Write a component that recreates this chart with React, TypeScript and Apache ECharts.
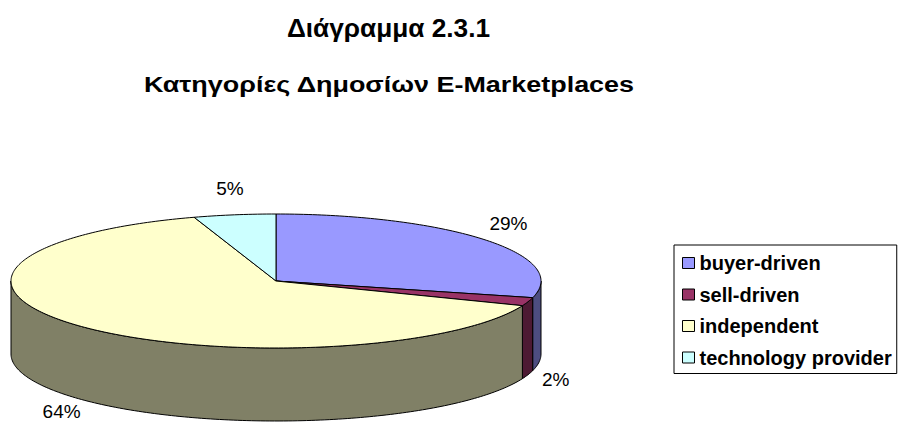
import React, { useEffect, useRef } from "react";
import * as echarts from "echarts";

const categories = ["buyer-driven", "sell-driven", "independent", "technology provider"];
const shares = [29, 2, 64, 5];
const topColors = ["#9999FF", "#993366", "#FFFFCC", "#CCFFFF"];
const sideColors = ["#4D4D80", "#4D1A33", "#808066", "#668080"];

const titleMain = "Διάγραμμα 2.3.1";
const titleSub = "Κατηγορίες Δημοσίων E-Marketplaces";

export default function App() {
  const ref = useRef<HTMLDivElement>(null);
  useEffect(() => {
    document.body.style.margin = "0";
    const chart = echarts.init(ref.current!, null, { renderer: "svg" });
    const total = shares.reduce((a, b) => a + b, 0);
    const CX = 276, CY = 281, RX = 265, RY = 67, DEPTH = 73;
    const pt = (deg: number, dy = 0) => {
      const r = (deg * Math.PI) / 180;
      return [CX + RX * Math.sin(r), CY - RY * Math.cos(r) + dy];
    };
    const renderItem = (params: any, api: any) => {
      const i = params.dataIndex;
      let start = 0;
      for (let k = 0; k < i; k++) start += shares[k];
      const v = api.value(0);
      const a0 = (start / total) * 360;
      const a1 = ((start + v) / total) * 360;
      const children: any[] = [];
      const topPts: number[][] = [[CX, CY]];
      const steps = Math.max(2, Math.ceil(a1 - a0));
      for (let s = 0; s <= steps; s++) topPts.push(pt(a0 + ((a1 - a0) * s) / steps));
      children.push({
        type: "polygon",
        z2: 10,
        shape: { points: topPts },
        style: { fill: topColors[i], stroke: "#000", lineWidth: 1, lineJoin: "round" },
      });
      const s0 = Math.max(a0, 90);
      const s1 = Math.min(a1, 270);
      if (s1 > s0) {
        const n = Math.max(2, Math.ceil(s1 - s0));
        const up: number[][] = [];
        const down: number[][] = [];
        for (let s = 0; s <= n; s++) {
          const d = s0 + ((s1 - s0) * s) / n;
          up.push(pt(d));
          down.push(pt(d, DEPTH));
        }
        children.push({
          type: "polygon",
          z2: 5,
          shape: { points: up.concat(down.reverse()) },
          style: { fill: sideColors[i], stroke: "#000", lineWidth: 1, lineJoin: "round" },
        });
      }
      const mid = (((a0 + a1) / 2) * Math.PI) / 180;
      const c = Math.cos(mid);
      const lx = CX + RX * Math.sin(mid) * 1.11;
      const ly = c >= 0 ? CY - RY * c * 1.4 : CY - RY * c * 1.25 + DEPTH;
      children.push({
        type: "text",
        z2: 20,
        x: lx,
        y: ly,
        style: {
          text: `${v}%`,
          fill: "#000",
          fontFamily: "Liberation Sans",
          fontSize: 19,
          align: "center",
          verticalAlign: "middle",
        },
      });
      return { type: "group", children };
    };

    chart.setOption({
      animation: false,
      backgroundColor: "#fff",
      legend: {
        orient: "vertical",
        left: 674,
        top: 245,
        icon: "rect",
        itemWidth: 12,
        itemHeight: 11,
        itemGap: 11.5,
        padding: [8, 5, 6, 8],
        borderColor: "#000",
        borderWidth: 1,
        selectedMode: false,
        itemStyle: { borderColor: "#000", borderWidth: 1 },
        textStyle: { fontFamily: "Liberation Sans", fontWeight: "bold", fontSize: 20, color: "#000" },
        data: categories,
      },
      graphic: [
        {
          type: "text",
          x: 388.5,
          y: 28.5,
          scaleX: 1.05,
          style: {
            text: titleMain,
            fontFamily: "Liberation Sans",
            fontWeight: "bold",
            fontSize: 25,
            fill: "#000",
            align: "center",
            verticalAlign: "middle",
          },
        },
        {
          type: "text",
          x: 389,
          y: 84,
          scaleX: 1.225,
          style: {
            text: titleSub,
            fontFamily: "Liberation Sans",
            fontWeight: "bold",
            fontSize: 22,
            fill: "#000",
            align: "center",
            verticalAlign: "middle",
          },
        },
      ],
      series: [
        {
          type: "custom",
          name: "pie3d",
          coordinateSystem: "none",
          renderItem,
          data: shares.map((v, i) => ({ name: categories[i], value: [v] })),
          silent: true,
        },
        {
          type: "pie",
          name: "legendSource",
          radius: [0, 0],
          center: [-200, -200],
          silent: true,
          label: { show: false },
          labelLine: { show: false },
          data: categories.map((n, i) => ({ name: n, value: shares[i], itemStyle: { color: topColors[i] } })),
        },
      ],
    });
    return () => chart.dispose();
  }, []);
  return <div ref={ref} style={{ position: "absolute", left: 0, top: 0, width: 898, height: 423 }} />;
}
